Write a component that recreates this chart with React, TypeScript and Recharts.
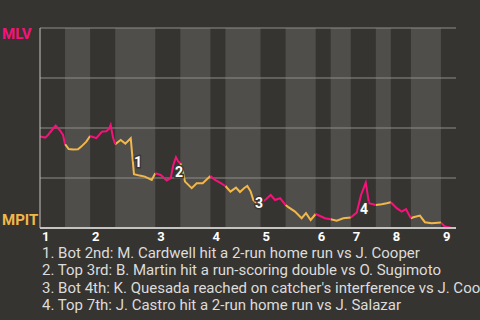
import { LineChart, Line, XAxis, YAxis, ReferenceArea, ReferenceLine, ReferenceDot } from 'recharts';

// play position (in plays from first pitch) and MLV win probability (%)
const playPos = [
  0, 1.06, 1.6, 2.4, 3.13, 3.93, 4.6, 5,
  5.73, 6.58, 7.58, 8.24, 9.24, 10,
  11.23, 12.37, 13.23, 13.77, 14.1, 14.57, 15,
  16.1, 17.02, 18.1, 18.75, 19.9, 20.9, 21.55, 22.29, 23,
  24.08, 25.28, 26.08, 26.6, 27.13, 27.6, 28,
  28.5, 28.93, 30.27, 31.26, 32.46, 34,
  34.92, 35.9, 37,
  37.99, 39.1, 39.9, 40.7, 41.36, 42.04, 42.56, 43.2, 44,
  45.1, 46.03, 46.9, 47.9, 49,
  49.55, 50.88, 52.2, 53.07, 54, 55,
  55.87, 56.86, 58,
  59.2, 60.5, 62,
  63.2, 64.05, 65, 65.64, 67,
  68.17, 69.17, 70,
  71.17, 72.17, 73.03, 74,
  74.5, 75.8, 76.8, 78.15, 80,
  80.8, 82.14, 83,
];

const mlvWinPct = [
  45.7, 45.2, 46.5, 49, 51.2, 49, 46.5, 41.9,
  39.5, 39.2, 39.4, 40.7, 43.2, 46,
  44.9, 48.2, 48.4, 49.5, 51.5, 45.2, 41.9,
  44, 42.2, 44.9, 26.9, 26.2, 25.7, 24.9, 24, 27.4,
  26.5, 23.7, 24.9, 31.5, 35.4, 33.2, 32.4,
  28.2, 23.2, 19.9, 22.4, 22.4, 26,
  24, 22.7, 21,
  18.2, 20.2, 18, 19.9, 21, 18.2, 14, 12.4, 12.4,
  14.4, 16.5, 14, 14.9, 11.5,
  10.4, 8.2, 4.9, 7.4, 4, 7,
  6, 4.9, 4.4,
  3.7, 4.9, 5.2,
  7.7, 16.5, 22.7, 12.4, 11.5,
  11.9, 12.4, 12.9,
  9.9, 8.2, 9.4, 4.9,
  5.4, 6.2, 2.9, 2.4, 2.7,
  0.7, 0, 0,
];

// start of each half inning (top 1st .. top 9th) and the end of the game
const halfStarts = [0, 5, 10, 15, 23, 28, 34, 37, 44, 49, 55, 58, 62, 67, 70, 74, 80, 83];
const inningLabels = ['1', '2', '3', '4', '5', '6', '7', '8', '9'];

const noteLabels = ['1', '2', '3', '4'];
const notePos = [19.55, 27.73, 43.7, 64.65];
const notePct = [33, 28, 12.5, 9.5];
const noteTexts = [
  '1. Bot 2nd: M. Cardwell hit a 2-run home run vs J. Cooper',
  '2. Top 3rd: B. Martin hit a run-scoring double vs O. Sugimoto',
  "3. Bot 4th: K. Quesada reached on catcher's interference vs J. Cooper",
  '4. Top 7th: J. Castro hit a 2-run home run vs J. Salazar',
];

const BG = '#363430';
const BAND = '#504e4b';
const PINK = '#f7127a';
const GOLD = '#f2b74a';
const FONT = 'Roboto, "DejaVu Sans", sans-serif';

// boundary points belong to both halves so the two colours join up
const data = playPos.map((x, i) => {
  let top = false;
  let bot = false;
  for (let h = 0; h < halfStarts.length - 1; h++) {
    if (x >= halfStarts[h] && x <= halfStarts[h + 1]) {
      if (h % 2 === 0) top = true;
      else bot = true;
    }
  }
  return { x, visit: top ? mlvWinPct[i] : null, home: bot ? mlvWinPct[i] : null };
});

const inningStarts = halfStarts.filter((_, i) => i % 2 === 0 && i < halfStarts.length - 1);

const YTick = ({ y, payload }: any) => {
  const isTop = payload.value === 100;
  return (
    <text
      x={2}
      y={isTop ? y + 11 : y - 3}
      fill={isTop ? PINK : GOLD}
      fontFamily={FONT}
      fontWeight={700}
      fontSize={15}
      textAnchor="start"
    >
      {isTop ? 'MLV' : 'MPIT'}
    </text>
  );
};

const XTick = ({ x, y, payload }: any) => {
  const idx = inningStarts.indexOf(payload.value);
  return (
    <text x={x + 2} y={y + 13} fill="#ffffff" fontFamily={FONT} fontWeight={700} fontSize={13} textAnchor="start">
      {inningLabels[idx]}
    </text>
  );
};

export default function App() {
  return (
    <div style={{ position: 'absolute', left: 0, top: 0, width: 480, height: 320, background: BG, overflow: 'hidden' }}>
      <LineChart width={480} height={250} data={data} margin={{ top: 28, right: 24, bottom: 2, left: 0 }}>
        {halfStarts.slice(0, -1).map((s, i) =>
          i % 2 === 1 ? (
            <ReferenceArea key={'b' + i} x1={s} x2={halfStarts[i + 1]} y1={0} y2={100} fill={BAND} fillOpacity={1} stroke="none" />
          ) : null
        )}
        {[25, 50, 75, 100].map((v) => (
          <ReferenceLine key={'g' + v} y={v} stroke="#8c8c8a" strokeWidth={1} />
        ))}
        <XAxis
          type="number"
          dataKey="x"
          domain={[0, 83]}
          ticks={inningStarts}
          interval={0}
          height={20}
          tickLine={false}
          tickSize={0}
          tickMargin={0}
          axisLine={{ stroke: '#c4c4c2', strokeWidth: 2 }}
          tick={<XTick />}
        />
        <YAxis
          type="number"
          domain={[0, 100]}
          ticks={[0, 100]}
          width={40}
          tickLine={false}
          axisLine={{ stroke: '#c4c4c2', strokeWidth: 1 }}
          tick={<YTick />}
        />
        <Line type="linear" dataKey="home" stroke={GOLD} strokeWidth={2} dot={false} connectNulls={false} isAnimationActive={false} />
        <Line type="linear" dataKey="visit" stroke={PINK} strokeWidth={2} dot={false} connectNulls={false} isAnimationActive={false} />
        {noteLabels.map((n, i) => (
          <ReferenceDot
            key={'n' + n}
            x={notePos[i]}
            y={notePct[i]}
            r={0}
            shape={(p: any) => (
              <text
                x={p.cx}
                y={p.cy}
                fill="#ffffff"
                stroke="#3a3835"
                strokeWidth={3}
                paintOrder="stroke"
                fontFamily={FONT}
                fontWeight={700}
                fontSize={14}
                textAnchor="middle"
                dominantBaseline="central"
              >
                {n}
              </text>
            )}
          />
        ))}
      </LineChart>
      <div
        style={{
          position: 'absolute',
          left: 42,
          top: 244.9,
          width: 438,
          fontFamily: FONT,
          fontSize: 15,
          lineHeight: '17.4px',
          color: '#dcdcdc',
          whiteSpace: 'nowrap',
          overflow: 'hidden',
        }}
      >
        {noteTexts.map((t) => (
          <div key={t}>{t}</div>
        ))}
      </div>
    </div>
  );
}
